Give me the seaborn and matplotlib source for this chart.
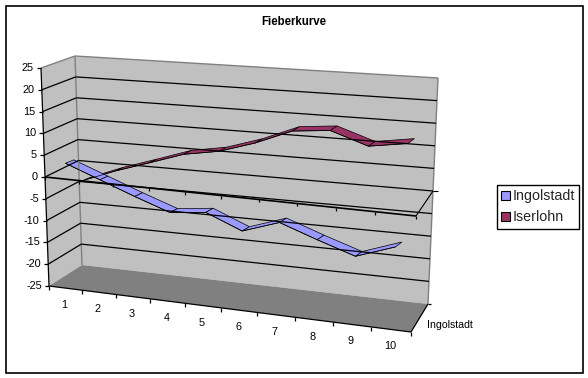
import numpy as np
import pandas as pd
import matplotlib
matplotlib.use("Agg")
import matplotlib.pyplot as plt
from matplotlib.patches import Patch, Rectangle
import seaborn as sns

# values
categories = ["1", "2", "3", "4", "5", "6", "7", "8", "9", "10"]
ingolstadt = [3, 0, -3, -5.8, -4.9, -8.2, -5.4, -8.3, -11, -8]
iserlohn = [-3, 0, 2.6, 5.3, 6.7, 9.3, 12.7, 13.5, 10.7, 12]
value_ticks = [25, 20, 15, 10, 5, 0, -5, -10, -15, -20, -25]

sns.set_theme(style="white")
plt.rcParams["font.family"] = ["Liberation Sans", "DejaVu Sans"]

# corners of the fake 3d box in image pixels: (front/back, left/right, top/bottom)
FLT, FLB = np.array([41, 68.]), np.array([49, 286.])
FRT, FRB = np.array([421, 100.]), np.array([411, 332.])
BLT, BLB = np.array([75, 56.]), np.array([82, 265.])
BRT, BRB = np.array([438, 78.]), np.array([428, 304.])


def project(u, v, w):
    # u = 0..1 along categories, v = value, w = 0..1 into the depth
    u = u / (u + 1.105 * (1 - u))  # perspective squeeze
    t = (25 - v) / 50
    front = (1 - u) * ((1 - t) * FLT + t * FLB) + u * ((1 - t) * FRT + t * FRB)
    back = (1 - u) * ((1 - t) * BLT + t * BLB) + u * ((1 - t) * BRT + t * BRB)
    return (1 - w) * front + w * back


def seg(ax, a, b, **kw):
    ax.plot([a[0], b[0]], [a[1], b[1]], solid_capstyle="butt", **kw)


fig = plt.figure(figsize=(5.88, 3.78), dpi=100)
ax = fig.add_axes([0, 0, 1, 1])
ax.set_xlim(0, 588)
ax.set_ylim(378, 0)
ax.axis("off")

ax.add_patch(Rectangle((5.5, 5.5), 577, 367.5, fc="white", ec="black", lw=1.2))

# walls and floor
wall = "#c0c0c0"
ax.fill(*zip(FLT, BLT, BLB, FLB), color=wall, lw=0)
ax.fill(*zip(BLT, BRT, BRB, BLB), color=wall, lw=0)
ax.fill(*zip(FLB, BLB, BRB, FRB), color="#808080", lw=0)
for a, b in [(FLT, BLT), (BLT, BRT), (BRT, BRB), (BLT, BLB)]:
    seg(ax, a, b, color="#808080", lw=1)

# gridlines
for v in value_ticks[1:-1]:
    a = project(0, v, 0)
    b = project(0, v, 1)
    c = project(1, v, 1)
    seg(ax, a, b, color="black", lw=0.9)
    seg(ax, b, c, color="black", lw=0.9)

# axes
seg(ax, FLT, FLB, color="black", lw=0.9)
seg(ax, FLB, FRB, color="black", lw=0.9)
seg(ax, FRB, BRB, color="black", lw=0.9)
seg(ax, BRB, BRB + [3, 0], color="black", lw=0.9)
for v in value_ticks:
    p = project(0, v, 0)
    seg(ax, p - [4, 0], p, color="black", lw=0.9)
    ax.text(p[0] - 7, p[1], str(v), ha="right", va="center", fontsize=7.8, color="black")
n = len(categories)
for i in range(n + 1):
    p = project(i / n, -25, 0)
    seg(ax, p, p + [0, 4], color="black", lw=0.9)
    q = project(i / n, 0, 0)
    seg(ax, q, q + [0, 3], color="black", lw=0.9)
for i, c in enumerate(categories):
    p = project((i + 0.5) / n, -25, 0)
    ax.text(p[0] - 1, p[1] + 17, c, ha="center", va="center", fontsize=7.8, color="black")
ax.text(427, 325, "Ingolstadt", ha="left", va="center", fontsize=7.6, color="black")

# zero plane edge
z0, z1, z2 = project(0, 0, 0), project(1, 0, 0), project(1, 0, 1)
seg(ax, z0, z1, color="black", lw=1.2)
seg(ax, z1, z2, color="black", lw=0.8)
seg(ax, z2, z2 + [5, 0], color="black", lw=0.8)


def ribbon(values, w, color):
    # the band runs flatter than the box depth, so offset it by hand from its centre line
    us = (np.arange(len(values)) + 0.5) / n
    mid = np.array([project(u, x, w) for u, x in zip(us, values)])
    half = np.column_stack([4.2 - us, -(1.7 + 0.8 * us)])
    lo, hi = mid - half, mid + half
    for i in range(len(values) - 1):
        ax.fill(*zip(lo[i], lo[i + 1], hi[i + 1], hi[i]), facecolor=color, edgecolor="black", lw=0.5)
    df = pd.DataFrame({"x": lo[:, 0], "y": lo[:, 1]})
    sns.lineplot(data=df, x="x", y="y", sort=False, estimator=None, color="black",
                 lw=0.5, ax=ax, legend=False)


ribbon(iserlohn, 0.75, "#993366")
ribbon(ingolstadt, 0.25, "#9999ff")
ax.set_xlim(0, 588)
ax.set_ylim(378, 0)
ax.axis("off")

ax.text(294, 22, "Fieberkurve", ha="center", va="center", fontsize=8.3, fontweight="bold", color="black")

handles = [Patch(fc="#9999ff", ec="black", lw=0.8, label="Ingolstadt"),
           Patch(fc="#993366", ec="black", lw=0.8, label="Iserlohn")]
leg = ax.legend(handles=handles, loc="upper left", bbox_to_anchor=(497 / 588, 1 - 185 / 378),
                bbox_transform=ax.transAxes, fontsize=10.3, frameon=True, fancybox=False,
                edgecolor="black", framealpha=1, borderpad=0.3, labelspacing=0.5,
                handlelength=0.6, handleheight=0.6, handletextpad=0.2, borderaxespad=0)
leg.get_frame().set_linewidth(1)

fig.savefig("out.png", dpi=100)
